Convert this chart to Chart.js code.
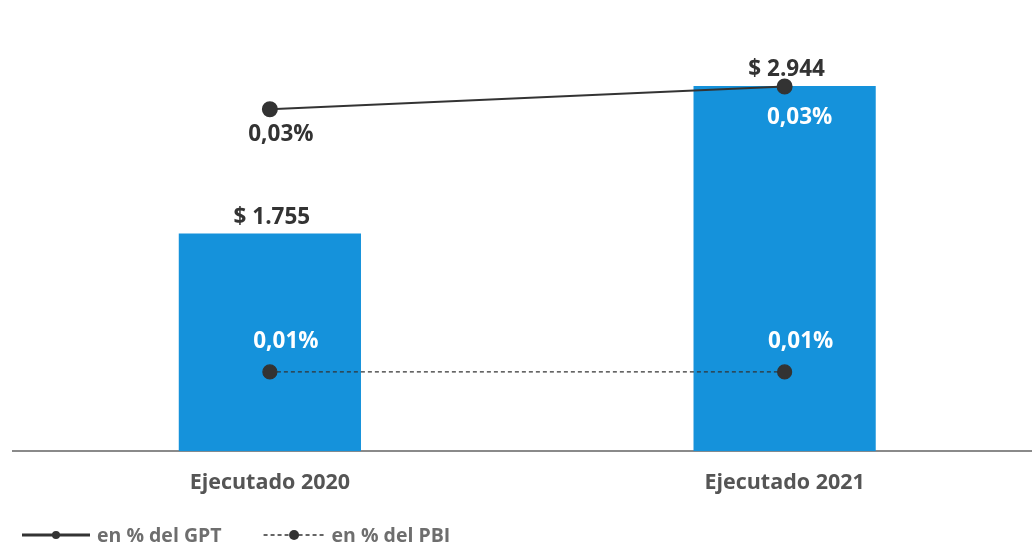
<!DOCTYPE html>
<html>
<head>
<meta charset="utf-8">
<script src="https://cdn.jsdelivr.net/npm/chart.js"></script>
<style>
  html, body { margin: 0; padding: 0; background: #fff; overflow: hidden; }
  #wrap { width: 1051px; height: 555px; position: relative; }
</style>
</head>
<body>
<div id="wrap"><canvas id="myChart"></canvas></div>
<script>
// Data
const categories = ['Ejecutado 2020', 'Ejecutado 2021'];
const montos = [1755, 2944];          // bars, in millions of $
const pctGPT = [0.0315, 0.0336];      // line, % of GPT
const pctPBI = [0.0073, 0.0073];      // dashed line, % of PBI

const BLUE = '#1592db';
const DARK = '#333333';
const FONT = '"Open Sans", sans-serif';

const fmtMonto = v => '$ ' + v.toLocaleString('es-AR');
const fmtPct = v => v.toFixed(2).replace('.', ',') + '%';

// Value labels drawn straight onto the chart
const valueLabels = {
    id: 'valueLabels',
    afterDatasetsDraw(chart) {
        const ctx = chart.ctx;
        ctx.save();
        ctx.textAlign = 'center';
        ctx.textBaseline = 'middle';
        ctx.font = 'bold 22.5px ' + FONT;

        const bars = chart.getDatasetMeta(0).data;
        bars.forEach((el, i) => {
            ctx.fillStyle = DARK;
            ctx.fillText(fmtMonto(montos[i]), el.x + 2, el.y - 16);
        });

        const gpt = chart.getDatasetMeta(1).data;
        gpt.forEach((el, i) => {
            // first label sits below the point on white, second inside the bar
            if (i === 0) {
                ctx.fillStyle = DARK;
                ctx.fillText(fmtPct(pctGPT[i]), el.x + 11, el.y + 25);
            } else {
                ctx.fillStyle = '#fff';
                ctx.fillText(fmtPct(pctGPT[i]), el.x + 15, el.y + 31);
            }
        });

        const pbi = chart.getDatasetMeta(2).data;
        pbi.forEach((el, i) => {
            ctx.fillStyle = '#fff';
            ctx.fillText(fmtPct(pctPBI[i]), el.x + 16, el.y - 30);
        });
        ctx.restore();
    }
};

// Bottom legend: line + dot marker, then the series name
const lineLegend = {
    id: 'lineLegend',
    afterDraw(chart) {
        const ctx = chart.ctx;
        const y = 535;
        let x = 22;
        ctx.save();
        ctx.font = 'bold 19.5px ' + FONT;
        ctx.textBaseline = 'middle';
        ctx.textAlign = 'left';
        [1, 2].forEach(di => {
            const ds = chart.data.datasets[di];
            const dashed = !!ds.borderDash;
            const w = dashed ? 61 : 68;
            ctx.strokeStyle = DARK;
            ctx.lineWidth = dashed ? 1.5 : 3;
            ctx.setLineDash(dashed ? [4, 3] : []);
            ctx.beginPath(); ctx.moveTo(x, y); ctx.lineTo(x + w, y); ctx.stroke();
            ctx.setLineDash([]);
            ctx.fillStyle = DARK;
            ctx.beginPath(); ctx.arc(x + w / 2, y, dashed ? 5 : 4, 0, Math.PI * 2); ctx.fill();
            x += w + 7;
            ctx.fillStyle = '#6e6e6e';
            ctx.fillText(ds.label, x, y + 1);
            x += ctx.measureText(ds.label).width + 42;
        });
        ctx.restore();
    }
};

const ctx = document.getElementById('myChart').getContext('2d');
const myChart = new Chart(ctx, {
    data: {
        labels: categories,
        datasets: [
            {
                type: 'bar',
                label: 'Monto',
                data: montos,
                backgroundColor: BLUE,
                categoryPercentage: 1,
                barPercentage: 0.354,
                yAxisID: 'y',
                order: 3
            },
            {
                type: 'line',
                label: 'en % del GPT',
                data: pctGPT,
                borderColor: DARK,
                borderWidth: 2,
                pointRadius: 7,
                pointBackgroundColor: DARK,
                pointBorderColor: DARK,
                yAxisID: 'y1',
                order: 1
            },
            {
                type: 'line',
                label: 'en % del PBI',
                data: pctPBI,
                borderColor: DARK,
                borderWidth: 1.2,
                borderDash: [4, 3],
                pointRadius: 7,
                pointBackgroundColor: DARK,
                pointBorderColor: DARK,
                yAxisID: 'y1',
                order: 2
            }
        ]
    },
    options: {
        responsive: true,
        maintainAspectRatio: false,
        animation: false,
        layout: { padding: { top: 17, left: 12.5, right: 0, bottom: 41 } },
        scales: {
            x: {
                grid: { display: false, drawTicks: false },
                border: { display: true, color: '#8a8a8a', width: 2 },
                ticks: {
                    color: '#555',
                    padding: 18.5,
                    font: { family: FONT, size: 21.5, weight: 'bold', lineHeight: 1.2 }
                }
            },
            y: { display: false, min: 0, max: 3500 },
            y1: { display: false, min: 0, max: 0.04 }
        },
        plugins: {
            tooltip: { enabled: false },
            legend: { display: false }
        }
    },
    plugins: [valueLabels, lineLegend]
});
</script>
</body>
</html>
